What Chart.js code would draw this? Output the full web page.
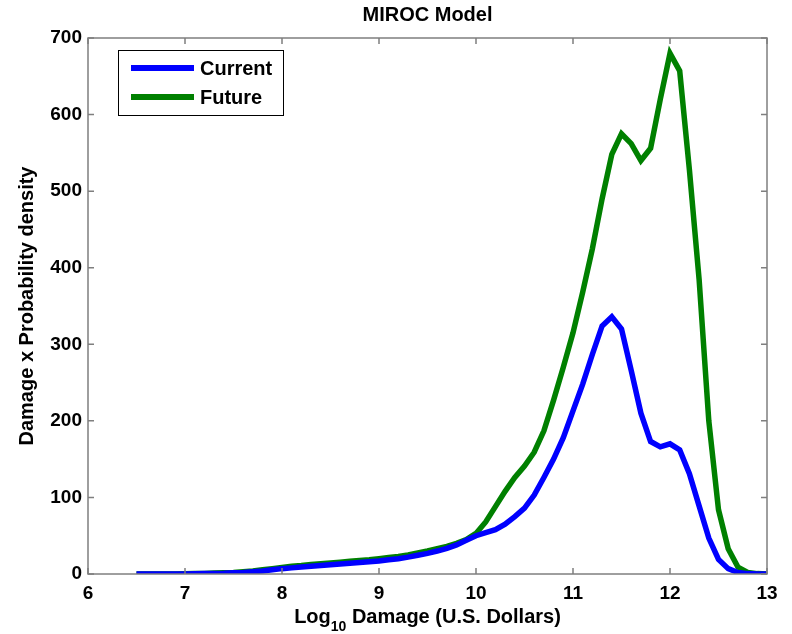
<!DOCTYPE html>
<html>
<head>
<meta charset="utf-8">
<script src="https://cdn.jsdelivr.net/npm/chart.js@4/dist/chart.umd.min.js"></script>
<style>
  body { margin: 0; background: #fff; }
  canvas { display: block; }
</style>
</head>
<body>
<canvas id="chart" width="792" height="634"></canvas>
<script>
// log10 damage values (x)
const logDamage = [
  6.5, 6.6, 6.7, 6.8, 6.9, 7.0, 7.1, 7.2, 7.3, 7.4, 7.5, 7.6, 7.7, 7.8, 7.9,
  8.0, 8.1, 8.2, 8.3, 8.4, 8.5, 8.6, 8.7, 8.8, 8.9, 9.0, 9.1, 9.2, 9.3, 9.4,
  9.5, 9.6, 9.7, 9.8, 9.9, 10.0, 10.1, 10.2, 10.3, 10.4, 10.5, 10.6, 10.7, 10.8, 10.9,
  11.0, 11.1, 11.2, 11.3, 11.4, 11.5, 11.6, 11.7, 11.8, 11.9, 12.0, 12.1, 12.2, 12.3, 12.4,
  12.5, 12.6, 12.7, 12.8, 12.9, 13.0
];

const currentValues = [
  0, 0, 0, 0, 0, 0, 0.3, 0.5, 0.8, 1, 1.5, 2, 3, 4, 5.5,
  7, 8, 9, 10, 11, 12, 13, 14, 15, 16, 17, 18.5, 20, 22, 24.5,
  27, 30, 33.5, 38, 44, 50, 54, 58, 65, 75, 86, 103, 126, 150, 178,
  213, 248, 287, 324, 336, 320, 266, 210, 173, 166, 170, 162, 131, 89, 47,
  19, 7, 2, 0.5, 0, 0
];

const futureValues = [
  0, 0, 0, 0, 0, 0.3, 0.5, 0.8, 1.2, 1.6, 2, 3, 4, 5.5, 7,
  8.5, 10, 11, 12.5, 13.5, 14.5, 15.5, 16.5, 17.5, 18.5, 20, 21.5, 23, 25, 27.5,
  30, 33, 36, 40, 45, 53, 68, 88, 108, 126, 141, 159, 187, 227, 270,
  315, 368, 425, 490, 548, 575, 562, 540, 556, 620, 680, 657, 528, 385, 200,
  84, 33, 9, 2, 0.5, 0
];

const xTicks = [6, 7, 8, 9, 10, 11, 12, 13];
const yTicks = [0, 100, 200, 300, 400, 500, 600, 700];

const FONT = '"Liberation Sans", Arial, sans-serif';

// frame, inward tick marks, titles and legend drawn like the matlab figure
const matlabLook = {
  id: 'matlabLook',
  afterDraw(chart) {
    const { ctx, chartArea: a, scales } = chart;
    ctx.save();
    ctx.strokeStyle = '#7f7f7f';
    ctx.lineWidth = 1.5;
    ctx.strokeRect(a.left, a.top, a.right - a.left, a.bottom - a.top);
    ctx.beginPath();
    xTicks.forEach(v => {
      const px = scales.x.getPixelForValue(v);
      ctx.moveTo(px, a.bottom); ctx.lineTo(px, a.bottom - 6);
      ctx.moveTo(px, a.top); ctx.lineTo(px, a.top + 6);
    });
    yTicks.forEach(v => {
      const py = scales.y.getPixelForValue(v);
      ctx.moveTo(a.left, py); ctx.lineTo(a.left + 6, py);
      ctx.moveTo(a.right, py); ctx.lineTo(a.right - 6, py);
    });
    ctx.stroke();

    ctx.fillStyle = '#000';
    ctx.textBaseline = 'middle';
    // title
    ctx.textAlign = 'center';
    ctx.font = 'bold 20px ' + FONT;
    ctx.fillText('MIROC Model', (a.left + a.right) / 2, 15);

    // y title
    ctx.save();
    ctx.translate(27, (a.top + a.bottom) / 2);
    ctx.rotate(-Math.PI / 2);
    ctx.font = 'bold 20px ' + FONT;
    ctx.fillText('Damage x Probability density', 0, 0);
    ctx.restore();

    // x title with subscript
    const big = 'bold 20px ' + FONT, small = 'bold 14px ' + FONT;
    ctx.font = big;
    const w1 = ctx.measureText('Log').width;
    const w3 = ctx.measureText(' Damage (U.S. Dollars)').width;
    ctx.font = small;
    const w2 = ctx.measureText('10').width;
    let x0 = (a.left + a.right) / 2 - (w1 + w2 + w3) / 2;
    const yT = 617;
    ctx.textAlign = 'left';
    ctx.font = big; ctx.fillText('Log', x0, yT);
    ctx.font = small; ctx.fillText('10', x0 + w1, yT + 10);
    ctx.font = big; ctx.fillText(' Damage (U.S. Dollars)', x0 + w1 + w2, yT);

    // legend box
    const lx = 118, ly = 50, lw = 165, lh = 65;
    ctx.fillStyle = '#fff';
    ctx.fillRect(lx, ly, lw, lh);
    ctx.strokeStyle = '#000';
    ctx.lineWidth = 1;
    ctx.strokeRect(lx + 0.5, ly + 0.5, lw, lh);
    chart.data.datasets.forEach((ds, i) => {
      const yy = ly + 18 + i * 29;
      ctx.strokeStyle = ds.borderColor;
      ctx.lineWidth = 6;
      ctx.beginPath();
      ctx.moveTo(lx + 13, yy); ctx.lineTo(lx + 76, yy);
      ctx.stroke();
      ctx.fillStyle = '#000';
      ctx.font = 'bold 20px ' + FONT;
      ctx.fillText(ds.label, lx + 82, yy + 1);
    });
    ctx.restore();
  }
};

new Chart(document.getElementById('chart'), {
  type: 'line',
  data: {
    datasets: [
      {
        label: 'Current',
        data: logDamage.map((x, i) => ({ x: x, y: currentValues[i] })),
        borderColor: '#0000ff',
        borderWidth: 5.5,
        pointRadius: 0,
        tension: 0,
        fill: false
      },
      {
        label: 'Future',
        data: logDamage.map((x, i) => ({ x: x, y: futureValues[i] })),
        borderColor: '#008000',
        borderWidth: 5.5,
        pointRadius: 0,
        tension: 0,
        fill: false
      }
    ]
  },
  options: {
    responsive: false,
    animation: false,
    devicePixelRatio: 1,
    layout: { padding: { top: 38, right: 25, left: 0, bottom: 0 } },
    plugins: {
      legend: { display: false },
      title: { display: false },
      tooltip: { enabled: false }
    },
    scales: {
      x: {
        type: 'linear',
        min: 6,
        max: 13,
        afterBuildTicks: s => { s.ticks = xTicks.map(v => ({ value: v })); },
        afterFit: s => { s.height = 60; },
        grid: { display: false, tickLength: 0 },
        border: { display: false },
        ticks: { color: '#000', padding: 8, font: { family: FONT, size: 19, weight: 'bold' } }
      },
      y: {
        min: 0,
        max: 700,
        afterBuildTicks: s => { s.ticks = yTicks.map(v => ({ value: v })); },
        afterFit: s => { s.width = 88; },
        grid: { display: false, tickLength: 0 },
        border: { display: false },
        ticks: { color: '#000', padding: 6, font: { family: FONT, size: 19, weight: 'bold' } }
      }
    }
  },
  plugins: [matlabLook]
});
</script>
</body>
</html>
